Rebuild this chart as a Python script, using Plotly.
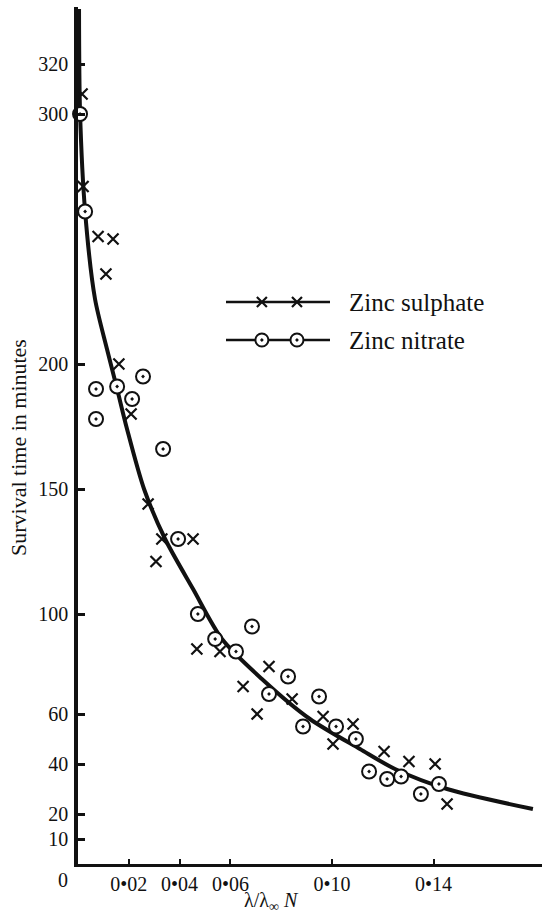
import plotly.graph_objects as go

# ---- data ----
sulphate_x = [0.0016, 0.0020, 0.0079, 0.0138, 0.0110, 0.0161, 0.0209, 0.0276, 0.0330, 0.0453,
              0.0307, 0.0468, 0.0559, 0.0752, 0.0650, 0.0705, 0.0843, 0.0965, 0.1083, 0.1004,
              0.1205, 0.1303, 0.1406, 0.1453]
sulphate_y = [308, 271, 251, 250, 236, 200, 180, 144, 130, 130,
              121, 86, 85, 79, 71, 60, 66, 59, 56, 48,
              45, 41, 40, 24]

nitrate_x = [0.0008, 0.0028, 0.0071, 0.0154, 0.0256, 0.0213, 0.0071, 0.0335, 0.0394, 0.0472,
             0.0685, 0.0540, 0.0622, 0.0827, 0.0752, 0.0949, 0.0886, 0.1016, 0.1094, 0.1146,
             0.1217, 0.1272, 0.1350, 0.1421]
nitrate_y = [300, 261, 190, 191, 195, 186, 178, 166, 130, 100,
             95, 90, 85, 75, 68, 67, 55, 55, 50, 37,
             34, 35, 28, 32]

curve_x = [0.0004, 0.0008, 0.0028, 0.0067, 0.0114, 0.0154, 0.0193, 0.0260, 0.0343, 0.0453,
           0.0567, 0.0724, 0.0913, 0.1110, 0.1248, 0.1453, 0.1791]
curve_y = [342, 301, 261, 226, 206, 190, 174, 150, 130, 110,
           90, 74, 58, 46, 38, 30, 22]

y_tickvals = [10, 20, 40, 60, 100, 150, 200, 300, 320]
y_ticktext = ["10", "20", "40", "60", "100", "150", "200", "300", "320"]
x_tickvals = [0.02, 0.04, 0.06, 0.10, 0.14]
x_ticktext = ["0•02", "0•04", "0•06", "0•10", "0•14"]

series_names = ["Zinc sulphate", "Zinc nitrate"]
legend_line_x = [0, 4]
legend_mark_x = [1.38, 2.73]
legend_row_y = [1, 0]

FONT = "Liberation Serif"
INK = "#111111"

fig = go.Figure()

fig.add_trace(go.Scatter(x=curve_x, y=curve_y, mode="lines",
                         line=dict(color=INK, width=4, shape="spline", smoothing=0.8),
                         showlegend=False, hoverinfo="skip", cliponaxis=False))
fig.add_trace(go.Scatter(x=sulphate_x, y=sulphate_y, mode="markers", name=series_names[0],
                         marker=dict(symbol="x-thin", size=11, color=INK,
                                     line=dict(color=INK, width=2.2)),
                         showlegend=False, cliponaxis=False))
fig.add_trace(go.Scatter(x=nitrate_x, y=nitrate_y, mode="markers", name=series_names[1],
                         marker=dict(symbol="circle-dot", size=14, color="white",
                                     line=dict(color=INK, width=2)),
                         showlegend=False, cliponaxis=False))

# ---- hand-drawn style legend on an overlay axis ----
for i, name in enumerate(series_names):
    ry = legend_row_y[i]
    fig.add_trace(go.Scatter(x=legend_line_x, y=[ry, ry], mode="lines", xaxis="x2", yaxis="y2",
                             line=dict(color=INK, width=2.5), showlegend=False,
                             hoverinfo="skip", cliponaxis=False))
    if i == 0:
        mk = dict(symbol="x-thin", size=10, color=INK, line=dict(color=INK, width=2.2))
    else:
        mk = dict(symbol="circle-dot", size=13, color="white", line=dict(color=INK, width=2))
    fig.add_trace(go.Scatter(x=legend_mark_x, y=[ry, ry], mode="markers", xaxis="x2", yaxis="y2",
                             marker=mk, showlegend=False, hoverinfo="skip", cliponaxis=False))

L, B, T, R = 78, 57, 7, 0
W, H = 542, 921
pw, ph = W - L - R, H - T - B

def px_x(px):
    return (px - L) / pw

def px_y(py):
    return (H - B - py) / ph

annotations = [
    dict(text=series_names[0], x=px_x(347), y=px_y(302), xref="paper", yref="paper",
         xanchor="left", yanchor="middle", showarrow=False,
         font=dict(family=FONT, size=25, color=INK)),
    dict(text=series_names[1], x=px_x(347), y=px_y(340), xref="paper", yref="paper",
         xanchor="left", yanchor="middle", showarrow=False,
         font=dict(family=FONT, size=25, color=INK)),
    dict(text="Survival time in minutes", x=px_x(18), y=px_y(448), xref="paper", yref="paper",
         xanchor="center", yanchor="middle", textangle=-90, showarrow=False,
         font=dict(family=FONT, size=22, color=INK)),
    dict(text="λ/λ<sub>∞</sub> <i>N</i>", x=px_x(271), y=px_y(901), xref="paper", yref="paper",
         xanchor="center", yanchor="middle", showarrow=False,
         font=dict(family=FONT, size=20, color=INK)),
    dict(text="0", x=px_x(63), y=px_y(880), xref="paper", yref="paper",
         xanchor="center", yanchor="middle", showarrow=False,
         font=dict(family=FONT, size=20, color=INK)),
]

fig.update_layout(
    width=W, height=H,
    margin=dict(l=L, r=R, t=T, b=B),
    paper_bgcolor="white", plot_bgcolor="white",
    showlegend=False,
    font=dict(family=FONT, size=20, color=INK),
    xaxis=dict(range=[0, pw / 2540], showgrid=False, zeroline=False,
               showline=True, linecolor=INK, linewidth=3,
               ticks="inside", ticklen=5, tickwidth=2, tickcolor=INK,
               tickvals=x_tickvals, ticktext=x_ticktext, ticklabelstandoff=0,
               tickfont=dict(family=FONT, size=20, color=INK)),
    yaxis=dict(range=[0, ph / 2.5], showgrid=False, zeroline=False,
               showline=True, linecolor=INK, linewidth=3.5,
               ticks="inside", ticklen=7, tickwidth=2.5, tickcolor=INK,
               tickvals=y_tickvals, ticktext=y_ticktext, ticklabelstandoff=2,
               tickfont=dict(family=FONT, size=20, color=INK)),
    xaxis2=dict(domain=[px_x(226) - 0.2 * (px_x(330) - px_x(226)) / 4,
                        px_x(330) + 0.2 * (px_x(330) - px_x(226)) / 4],
                range=[-0.2, 4.2], anchor="y2", visible=False),
    yaxis2=dict(domain=[px_y(340) - 0.5 * (px_y(302) - px_y(340)),
                        px_y(302) + 0.5 * (px_y(302) - px_y(340))],
                range=[-0.5, 1.5], anchor="x2", visible=False),
    annotations=annotations,
)

fig.write_html("out.html")
